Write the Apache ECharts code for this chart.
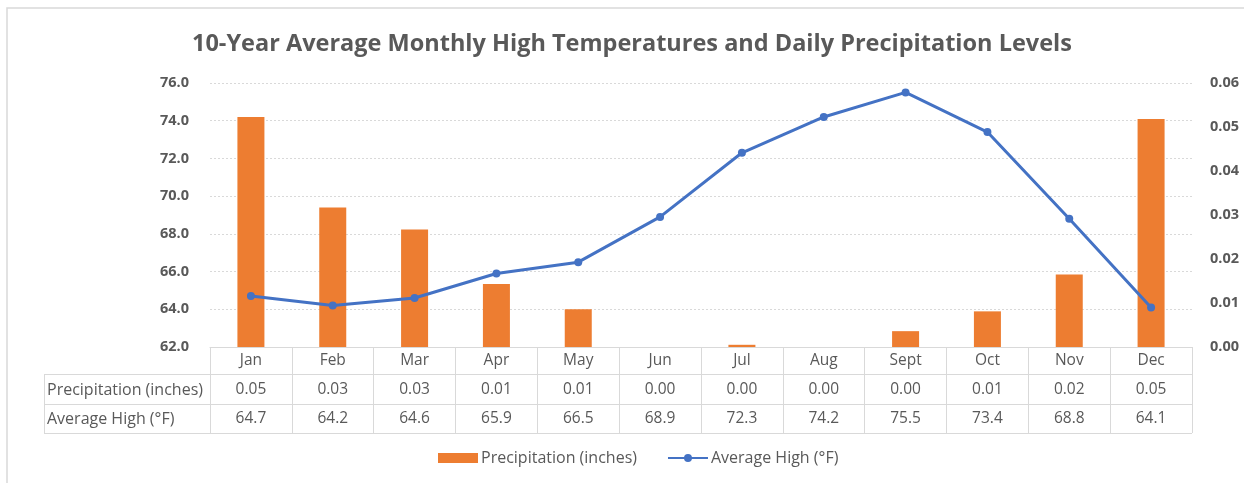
<!DOCTYPE html>
<html>
<head>
<meta charset="utf-8">
<script src="https://cdn.jsdelivr.net/npm/echarts@6/dist/echarts.min.js"></script>
<style>
html,body{margin:0;padding:0;background:#fff;}
#chart{width:1244px;height:483px;}
</style>
</head>
<body>
<div id="chart"></div>
<script>
const months = ['Jan','Feb','Mar','Apr','May','Jun','Jul','Aug','Sept','Oct','Nov','Dec'];
const precipitation = [0.0523, 0.0317, 0.0267, 0.0143, 0.0086, 0.0, 0.0005, 0.0, 0.0036, 0.0081, 0.0165, 0.0518];
const precipLabels = ['0.05','0.03','0.03','0.01','0.01','0.00','0.00','0.00','0.00','0.01','0.02','0.05'];
const avgHigh = [64.7, 64.2, 64.6, 65.9, 66.5, 68.9, 72.3, 74.2, 75.5, 73.4, 68.8, 64.1];
const seriesNames = ['Precipitation (inches)', 'Average High (°F)'];
const titleText = '10-Year Average Monthly High Temperatures and Daily Precipitation Levels';

const FONT = '"Open Sans", "Noto Sans", sans-serif';
const TXT = '#595959';
const LINE = '#d9d9d9';
const FS = 15.5;

const G = {left: 210, right: 1192, top: 83, bottom: 347};
const rowY = [347, 374, 404, 433];
const tableLeft = 44;

const chart = echarts.init(document.getElementById('chart'), null, {renderer: 'canvas'});

const option = {
  animation: false,
  backgroundColor: '#fff',
  title: {
    text: titleText,
    left: 187,
    top: 27,
    textStyle: {fontFamily: FONT, fontSize: 23.5, fontWeight: 'bold', color: TXT}
  },
  legend: {
    bottom: 12,
    left: 433,
    itemGap: 30,
    itemWidth: 40,
    itemHeight: 10,
    textStyle: {fontFamily: FONT, fontSize: 16, color: TXT, padding: [0, 0, 0, -2]},
    data: [
      {name: seriesNames[0], icon: 'rect'},
      {name: seriesNames[1]}
    ]
  },
  grid: {left: G.left, right: 1244 - G.right, top: G.top, bottom: 483 - G.bottom, containLabel: false},
  xAxis: {
    type: 'category',
    data: months,
    boundaryGap: true,
    axisLine: {show: true, lineStyle: {color: LINE, width: 1}},
    axisTick: {show: true, length: rowY[3] - rowY[0], alignWithLabel: false, lineStyle: {color: LINE, width: 1}},
    axisLabel: {
      margin: 0,
      interval: 0,
      verticalAlign: 'top',
      fontFamily: FONT,
      color: TXT,
      formatter: function (v, i) {
        return '{m|' + v + '}\n{p|' + precipLabels[i] + '}\n{t|' + avgHigh[i].toFixed(1) + '}';
      },
      rich: {
        m: {fontFamily: FONT, fontSize: FS, color: TXT, lineHeight: 28},
        p: {fontFamily: FONT, fontSize: FS, color: TXT, lineHeight: 29},
        t: {fontFamily: FONT, fontSize: FS, color: TXT, lineHeight: 30}
      }
    }
  },
  yAxis: [
    {
      type: 'value', min: 62, max: 76, interval: 2, position: 'left',
      axisLine: {show: false}, axisTick: {show: false},
      axisLabel: {margin: 21, fontFamily: FONT, fontSize: 14.5, fontWeight: 'bold', color: TXT,
        formatter: v => v.toFixed(1)},
      splitLine: {show: true, lineStyle: {color: LINE, type: [2, 2], width: 1}}
    },
    {
      type: 'value', min: 0, max: 0.06, interval: 0.01, position: 'right',
      axisLine: {show: false}, axisTick: {show: false},
      axisLabel: {margin: 18, fontFamily: FONT, fontSize: 14.5, fontWeight: 'bold', color: TXT,
        formatter: v => v.toFixed(2)},
      splitLine: {show: false}
    }
  ],
  series: [
    {
      name: seriesNames[0], type: 'bar', yAxisIndex: 1, data: precipitation,
      barWidth: '33%', itemStyle: {color: '#ED7D31'}, z: 2
    },
    {
      name: seriesNames[1], type: 'line', yAxisIndex: 0, data: avgHigh,
      symbol: 'circle', symbolSize: 8, lineStyle: {color: '#4472C4', width: 3},
      itemStyle: {color: '#4472C4'}, z: 3
    }
  ],
  graphic: [
    {type: 'rect', shape: {x: 7, y: 8, width: 1400, height: 600}, style: {fill: 'none', stroke: '#d9d9d9', lineWidth: 1.5}, silent: true},
    {type: 'line', shape: {x1: tableLeft, y1: rowY[1] + 0.5, x2: G.right, y2: rowY[1] + 0.5}, style: {stroke: LINE, lineWidth: 1}},
    {type: 'line', shape: {x1: tableLeft, y1: rowY[2] + 0.5, x2: G.right, y2: rowY[2] + 0.5}, style: {stroke: LINE, lineWidth: 1}},
    {type: 'line', shape: {x1: tableLeft, y1: rowY[3] + 0.5, x2: G.right, y2: rowY[3] + 0.5}, style: {stroke: LINE, lineWidth: 1}},
    {type: 'line', shape: {x1: tableLeft + 0.5, y1: rowY[1], x2: tableLeft + 0.5, y2: rowY[3]}, style: {stroke: LINE, lineWidth: 1}},
    {type: 'text', x: tableLeft + 3, y: (rowY[1] + rowY[2]) / 2 + 1, style: {text: seriesNames[0], fontFamily: FONT, fontSize: 16, fill: TXT, verticalAlign: 'middle'}},
    {type: 'text', x: tableLeft + 3, y: (rowY[2] + rowY[3]) / 2 + 1, style: {text: seriesNames[1], fontFamily: FONT, fontSize: 16, fill: TXT, verticalAlign: 'middle'}}
  ]
};
chart.setOption(option);
</script>
</body>
</html>
